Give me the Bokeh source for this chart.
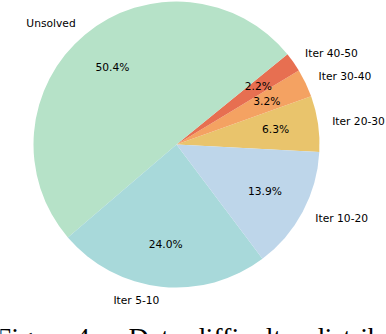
import math
from bokeh.plotting import figure
from bokeh.models import Range1d, ColumnDataSource
from bokeh.core.properties import value
from bokeh.embed import file_html
from bokeh.resources import INLINE

# data
categories = ["Iter 20-30", "Iter 30-40", "Iter 40-50", "Unsolved", "Iter 5-10", "Iter 10-20"]
shares = [6.3, 3.2, 2.2, 50.4, 24.0, 13.9]
colors = ["#e9c46c", "#f4a262", "#e76f51", "#b6e2c8", "#a8d9da", "#bed6ea"]
caption_words = ["Figure 4:", "Data", "difficulty", "distribution"]
caption_x = [97, 128, 191, 310]
caption_align = ["right", "left", "left", "left"]

W, H = 386, 334
CX, CY = 176, H - 144
R = 143
START = -3.0
LABEL_D = 1.1
PCT_D = 0.7
FONT = value("DejaVu Sans")

p = figure(width=W, height=H, output_backend="svg", toolbar_location=None,
           x_range=Range1d(0, W), y_range=Range1d(0, H), min_border=0)
p.axis.visible = False
p.grid.visible = False
p.outline_line_color = None
p.background_fill_color = "white"
p.border_fill_color = "white"

total = sum(shares)
starts, ends = [], []
a = START
for s in shares:
    starts.append(a)
    a += 360.0 * s / total
    ends.append(a)

src = ColumnDataSource(dict(start=starts, end=ends, color=colors))
p.wedge(x=CX, y=CY, radius=R, start_angle="start", end_angle="end",
        start_angle_units="deg", end_angle_units="deg", direction="anticlock",
        fill_color="color", line_color=None, source=src)

lx, ly, lalign, px, py, ptxt = [], [], [], [], [], []
for s, a0, a1 in zip(shares, starts, ends):
    m = math.radians((a0 + a1) / 2)
    c, sn = math.cos(m), math.sin(m)
    lx.append(CX + LABEL_D * R * c)
    ly.append(CY + LABEL_D * R * sn)
    lalign.append("left" if c > 0 else "right")
    px.append(CX + PCT_D * R * c)
    py.append(CY + PCT_D * R * sn)
    ptxt.append(f"{s:.1f}%")

lsrc = ColumnDataSource(dict(x=lx, y=ly, t=categories, align=lalign))
p.text(x="x", y="y", text="t", text_align="align", text_baseline="middle",
       text_font=FONT, text_font_size="10.7px", text_color="black", source=lsrc)

psrc = ColumnDataSource(dict(x=px, y=py, t=ptxt))
p.text(x="x", y="y", text="t", text_align="center", text_baseline="middle",
       text_font=FONT, text_font_size="10.7px", text_color="black", source=psrc)

csrc = ColumnDataSource(dict(x=caption_x, y=[H - 321] * len(caption_x),
                             t=caption_words, align=caption_align))
p.text(x="x", y="y", text="t", text_align="align", text_baseline="top",
       text_font=value("Liberation Serif"), text_font_size="28px", text_color="black",
       source=csrc)

open("out.html", "w").write(file_html(p, INLINE))
